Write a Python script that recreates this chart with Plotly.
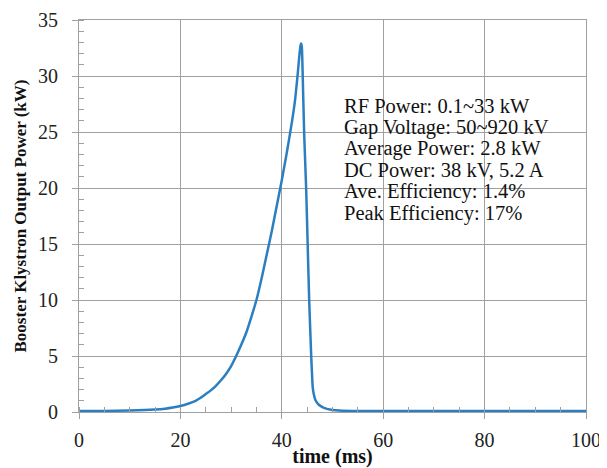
import plotly.graph_objects as go

time_ms = [0, 5, 10, 13, 15, 17, 18.5, 20, 21.5, 23, 24, 25, 26, 27, 28, 29, 30, 31, 32, 33,
           34, 35, 36, 37, 38, 39, 40, 41, 42, 42.6, 43.1, 43.4, 43.65, 43.8, 43.95, 44.1,
           44.4, 44.8, 45.1, 45.4, 45.8, 46.0, 46.1, 46.3, 46.6, 47.3, 48.2, 49.7, 52, 55,
           60, 70, 80, 90, 100]
power_kw = [0.1, 0.1, 0.13, 0.17, 0.22, 0.3, 0.4, 0.54, 0.74, 1.0, 1.27, 1.6, 1.93, 2.34, 2.83, 3.4,
            4.1, 5.0, 6.0, 7.1, 8.5, 10, 11.9, 14, 16.1, 18.4, 20.7, 23.2, 25.9, 27.8, 30,
            31.5, 32.6, 32.9, 32.6, 30.5, 25, 20, 15, 10, 5, 3.0, 2.2, 1.6, 1.1, 0.65, 0.4,
            0.2, 0.12, 0.1, 0.1, 0.1, 0.1, 0.1, 0.1]

info_lines = ["RF Power: 0.1~33 kW", "Gap Voltage: 50~920 kV", "Average Power: 2.8 kW",
              "DC Power: 38 kV, 5.2 A", "Ave. Efficiency: 1.4%", "Peak Efficiency: 17%"]

FONT = "Liberation Serif"
GRID = "#a0a0a0"

fig = go.Figure()
fig.add_trace(go.Scatter(x=time_ms, y=power_kw, mode="lines",
                         line=dict(color="#2b7fc1", width=2.5, shape="spline", smoothing=0.5),
                         showlegend=False))

fig.add_shape(type="rect", xref="x", yref="y", x0=51.2, x1=95.0, y0=16.0, y1=29.5,
              fillcolor="white", line=dict(width=0), layer="below")

line_top = 27.35
line_step = 1.92
for i, txt in enumerate(info_lines):
    fig.add_annotation(x=51.9, y=line_top - i * line_step, xref="x", yref="y",
                       xanchor="left", yanchor="middle", align="left", showarrow=False,
                       text=txt, font=dict(family=FONT, size=20.5, color="#111"))

# page body has an 8px margin, so the figure is sized to fit the 607x468 window
fig.update_layout(
    width=599, height=460,
    margin=dict(l=71, r=21, t=12, b=56),
    paper_bgcolor="white", plot_bgcolor="white",
    font=dict(family=FONT, color="#222"),
    xaxis=dict(range=[0, 100], dtick=20, showgrid=True, gridcolor=GRID, gridwidth=1,
               showline=True, linecolor=GRID, linewidth=1, mirror=True,
               ticks="outside", ticklen=6, tickcolor=GRID, automargin=False,
               ticklabelstandoff=4,
               minor=dict(dtick=5, ticks="inside", ticklen=5, tickcolor=GRID, showgrid=False),
               tickfont=dict(family=FONT, size=20, color="#222"),
               title=dict(text="<b>time (ms)</b>", font=dict(family=FONT, size=20, color="#111"),
                          standoff=2),
               zeroline=False),
    yaxis=dict(range=[0, 35], dtick=5, showgrid=True, gridcolor=GRID, gridwidth=1,
               showline=True, linecolor=GRID, linewidth=1, mirror=True,
               ticks="outside", ticklen=6, tickcolor=GRID, automargin=False,
               ticklabelstandoff=10,
               minor=dict(dtick=1, ticks="inside", ticklen=5, tickcolor=GRID, showgrid=False),
               tickfont=dict(family=FONT, size=20, color="#222"),
               title=dict(text="<b>Booster Klystron Output Power (kW)</b>",
                          font=dict(family=FONT, size=17, color="#111"), standoff=7),
               zeroline=False),
)

fig.write_html("out.html")
